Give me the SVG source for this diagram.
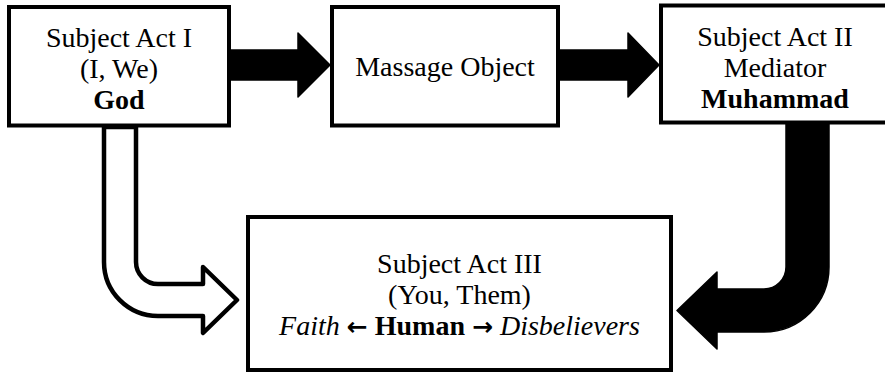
<svg xmlns="http://www.w3.org/2000/svg" width="885" height="373" viewBox="0 0 885 373">
<rect width="885" height="373" fill="#fff"/>
<g id="connectors" stroke="#000" stroke-linejoin="round">
<g fill="#000" stroke-width="1.5">
<path d="M228,50 H298 V33 L330,65 L298,97 V80 H228 Z"/>
<path d="M557,50 H628 V33 L659,65 L628,97 V80 H557 Z"/>
<path d="M786,120 V267 A22,22 0 0 1 764,289 H717 V272 L677,310.5 L717,349 V332 H764 A65,65 0 0 0 829,267 V120 Z"/>
</g>
<path fill="#fff" stroke-width="4.5" d="M104,127 H136 V262 A22,22 0 0 0 158,284 H203 V267 L237,300 L203,333 V316 H158 A54,54 0 0 1 104,262 Z"/>
</g>
<g font-family="Liberation Serif" font-size="28" text-anchor="middle" fill="#000">
<g id="node-subject-act-1">
<rect x="9" y="7" width="220" height="118.5" fill="#fff" stroke="#000" stroke-width="4"/>
<text x="119" y="47">Subject Act I</text>
<text x="119" y="78">(I, We)</text>
<text x="119" y="109" font-weight="bold">God</text>
</g>
<g id="node-massage-object">
<rect x="332" y="7" width="226" height="118.5" fill="#fff" stroke="#000" stroke-width="4"/>
<text x="445" y="76">Massage Object</text>
</g>
<g id="node-subject-act-2">
<rect x="661" y="5.5" width="230" height="117" fill="#fff" stroke="#000" stroke-width="4"/>
<text x="775" y="46">Subject Act II</text>
<text x="775" y="77">Mediator</text>
<text x="775" y="108" font-weight="bold">Muhammad</text>
</g>
<g id="node-subject-act-3">
<rect x="248" y="217" width="423" height="153" fill="#fff" stroke="#000" stroke-width="4"/>
<text x="459.5" y="273">Subject Act III</text>
<text x="459.5" y="304">(You, Them)</text>
<text x="459.5" y="335"><tspan font-style="italic">Faith</tspan> <tspan font-family="DejaVu Sans" font-weight="bold" font-size="25">←</tspan> <tspan font-weight="bold">Human</tspan> <tspan font-family="DejaVu Sans" font-weight="bold" font-size="25">→</tspan> <tspan font-style="italic">Disbelievers</tspan></text>
</g>
</g>
</svg>
